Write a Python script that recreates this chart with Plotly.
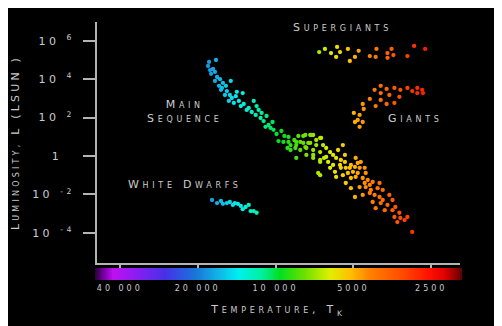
import numpy as np
import plotly.graph_objects as go

# ---------------- data (temperature in K, luminosity in L_sun) ----------------
ms_temp = [18070, 16990, 18230, 17910, 17440, 17750, 17140, 16830, 17140, 16390,
           15970, 16540, 16110, 15550, 14890, 15420, 16250, 15020, 14750, 14240,
           15150, 14490, 13860, 13620, 13270, 12920, 12140, 12360, 11620, 11930,
           11420, 11120, 10930, 10640, 10270, 10180, 9910, 9490, 9740, 9320,
           8910, 8750, 8460, 8310, 8020, 7810, 7670, 7470, 7280, 14110,
           15690, 13390, 12690, 11830, 11320, 10830, 10450, 9240, 8990,
           7670, 7150, 6720, 8310, 7810, 7340, 6960, 6550, 8380, 8020,
           7600, 7150, 6720, 6370, 6150, 5490,
           8310, 7600, 7150, 6720, 6370, 5990, 5830, 5390,
           6150, 5990, 5630, 5390, 5350, 5110, 4900,
           6720, 5830, 5250, 5020, 4730, 4680, 4520, 4480,
           5110, 4900, 4600, 4400, 4210, 3960,
           5350, 5110, 4730, 4480, 4280, 4030, 3850,
           4930, 4600, 4320, 4140, 3960,
           4210, 3920, 3690, 3530,
           4100, 3780, 3530, 3320, 3470, 3290, 3170, 2960,
           6260, 5890, 5590, 5490, 5160, 4930, 4810, 4520, 4320,
           8910, 7340, 7150, 6720, 6660, 6840,
           8750, 8160, 6960, 5730, 6490, 5590, 4810, 3850, 3630, 3440, 3090, 3380]
ms_lum = [7.9e4, 1.0e5, 4.9e4, 3.0e4, 3.4e4, 1.9e4, 2.4e4, 1.3e4, 8.1e3, 1.0e4,
          6.4e3, 4.5e3, 3.5e3, 4.5e3, 8.1e3, 2.4e3, 2.8e3, 1.5e3, 1.05e3, 1.3e3,
          740, 580, 740, 400, 510, 250, 740, 195, 250, 137,
          95, 66, 33, 41, 59, 23, 14, 20, 6.0, 5.4,
          9.8, 3.7, 6.8, 3.7, 5.4, 11, 2.9, 4.8, 12.4, 2.2e3,
          1.5e3, 1.9e3, 320, 400, 174, 121, 29, 11, 2.6,
          12.4, 12.4, 8.7, 5.4, 4.8, 4.8, 3.7, 3.7, 2.6, 2.05,
          2.6, 2.05, 1.6, 2.6, 1.6, 3.7,
          0.79, 1.13, 0.79, 0.49, 0.89, 1.13, 0.79, 1.13,
          0.24, 0.34, 0.34, 0.49, 0.24, 0.34, 0.79,
          0.10, 0.081, 0.13, 0.15, 0.24, 0.49, 0.24, 0.13,
          0.071, 0.081, 0.071, 0.056, 0.044, 0.039,
          0.039, 0.021, 0.024, 0.024, 0.017, 0.021, 0.017,
          0.0073, 0.0093, 0.0118, 0.0093, 0.0073,
          0.0040, 0.0035, 0.0028, 0.0051,
          0.0019, 0.0015, 0.0015, 0.0011, 0.00066, 0.00059, 0.00046, 0.00011,
          0.49, 0.15, 0.24, 0.10, 0.24, 0.27, 0.13, 0.039, 0.031,
          5.4, 12.4, 1.13, 0.62, 8.7, 0.13,
          2.05, 11, 6.8, 2.05, 0.79, 0.62, 0.43, 0.0051, 0.0093, 0.0022, 0.00066, 0.00036]

giant_temp = [4140, 3920, 3920, 3720, 3470, 3290, 3090, 2960, 2830, 2830,
              2710, 2690, 3630, 3320, 4320, 3920, 3720, 3470, 4100, 4600,
              4560, 4980, 4730, 4810, 4600, 4930, 4730]
giant_lum = [2.8e3, 4.5e3, 1.9e3, 3.1e3, 3.5e3, 2.8e3, 3.5e3, 2.4e3, 3.5e3, 1.9e3,
             2.8e3, 1.9e3, 1.5e3, 1.2e3, 940, 830, 510, 580, 400, 510,
             280, 174, 137, 75, 59, 59, 33]

super_temp = [6780, 6440, 6100, 5780, 5630, 5830, 5250, 5160, 4930, 4770,
              4320, 4100, 4070, 3690, 3690, 3560, 3500, 3090, 2910, 2640]
super_lum = [2.6e5, 3.8e5, 2.3e5, 4.8e5, 2.6e5, 1.45e5, 3.8e5, 8.9e4, 1.45e5, 3.0e5,
             1.6e5, 1.45e5, 3.8e5, 2.3e5, 1.3e5, 3.8e5, 1.8e5, 1.6e5, 5.4e5, 3.8e5]

wd_temp = [17600, 16830, 16250, 15970, 15420, 15020, 14620, 14360, 13980, 13620,
           13390, 13040, 12690, 12480, 12140, 11830]
wd_lum = [0.0051, 0.0035, 0.0045, 0.0032, 0.0035, 0.0040, 0.0028, 0.0035, 0.0032, 0.0025,
          0.0017, 0.0022, 0.0028, 0.00135, 0.00135, 0.0011]

x_tick_vals = [40000, 20000, 10000, 5000, 2500]
x_tick_text = ["40 000", "20 000", "10 000", "5000", "2500"]
y_tick_vals = [1e6, 1e4, 1e2, 1, 1e-2, 1e-4]
y_tick_text = ["10 <sup>6</sup>", "10 <sup>4</sup>", "10 <sup>2</sup>",
               "1", "10 <sup>-2</sup>", "10 <sup>-4</sup>"]

# colour bar (from hot / left to cold / right)
bar_stops = [0, 0.027, 0.049, 0.123, 0.19, 0.275, 0.34, 0.39, 0.455, 0.504,
             0.572, 0.64, 0.695, 0.75, 0.83, 0.913, 0.954, 1.0]
bar_colors = ["#2a0038", "#8000b0", "#c010f0", "#8020f0", "#4830e8", "#1878d8",
              "#10b8e8", "#00f0f0", "#00f0a0", "#00e020", "#70e000", "#e0f000",
              "#ffc000", "#ff8000", "#ff5000", "#ff1000", "#e00000", "#600000"]
bar_t_hot, bar_t_cold = 49900, 1901

# ---------------- figure ----------------
colorscale = [[1 - s, c] for s, c in zip(bar_stops, bar_colors)][::-1]
cmin, cmax = np.log10(bar_t_cold), np.log10(bar_t_hot)

W, H = 502, 326
OFF = 8                       # page offset of the figure in the window
ML, MR, MT, MB = 87, 48, 14, 54
PW, PH = W - ML - MR, H - MT - MB
GRAY = "#cccccc"
LINE = "#b4b4b4"

fig = go.Figure()
for tt, ll in [(ms_temp, ms_lum), (giant_temp, giant_lum),
               (super_temp, super_lum), (wd_temp, wd_lum)]:
    fig.add_trace(go.Scatter(
        x=tt, y=ll, mode="markers", xaxis="x", yaxis="y", hoverinfo="skip",
        marker=dict(size=4.3, symbol="circle", color=np.log10(tt),
                    colorscale=colorscale, cmin=cmin, cmax=cmax,
                    line=dict(width=0))))

bar_x = np.logspace(np.log10(bar_t_hot), np.log10(bar_t_cold), 400)
fig.add_trace(go.Heatmap(
    x=bar_x, y=[0, 1], z=[np.log10(bar_x), np.log10(bar_x)],
    colorscale=colorscale, zmin=cmin, zmax=cmax, showscale=False,
    xaxis="x2", yaxis="y2", hoverinfo="skip"))


def sp(txt, s):
    return "<span style='letter-spacing:%spx'>%s</span>" % (s, txt)


def smallcaps(words, s=3.7, small=8):
    """Upper-case words whose first letter is big and the rest small."""
    out = []
    for w in words.split(" "):
        out.append(w[0] + "<span style='font-size:%dpx'>%s</span>" % (small, w[1:])
                   if len(w) > 1 and w[0].isalpha() else w)
    return sp(" ".join(out), s)


lab_font = dict(family="DejaVu Sans", size=11, color=GRAY)

fig.update_layout(
    width=W, height=H, margin=dict(l=ML, r=MR, t=MT, b=MB),
    paper_bgcolor="black", plot_bgcolor="black", showlegend=False,
    font=dict(family="DejaVu Sans", color=GRAY),
    xaxis=dict(type="log", domain=[2 / PW, 1 - 2 / PW], anchor="y",
               automargin=False,
               range=[np.log10(49000), np.log10(1935)],
               showline=True, linecolor=LINE, linewidth=2, showgrid=False,
               zeroline=False, ticks="outside", ticklen=4, tickwidth=2,
               tickcolor=LINE, tickvals=x_tick_vals,
               ticktext=[sp(t, 3) for t in x_tick_text],
               tickfont=dict(size=8, color=GRAY), ticklabelstandoff=12,
               title=dict(text=sp("T<span style='font-size:8px'>EMPERATURE</span>, T<sub>K</sub>", 3.7),
                          font=lab_font, standoff=14)),
    yaxis=dict(type="log", domain=[17 / PH, 1], anchor="x",
               automargin=False,
               range=[-5.576, 6.98], showline=True, linecolor=LINE,
               linewidth=2, showgrid=False, zeroline=False, ticks="outside",
               ticklen=12, tickwidth=2, tickcolor=LINE,
               tickvals=y_tick_vals,
               ticktext=[sp(t, 16) if t == "1" else sp(t, 3.5) for t in y_tick_text],
               tickfont=dict(size=11, color=GRAY), ticklabelstandoff=6,
               title=dict(text=smallcaps("LUMINOSITY, L (LSUN )", 3.2),
                          font=lab_font, standoff=10)),
    xaxis2=dict(type="log", domain=[0, 1], anchor="y2", visible=False,
                range=[np.log10(bar_t_hot), np.log10(bar_t_cold)]),
    yaxis2=dict(domain=[0, 12 / PH], anchor="x2", range=[-0.5, 1.5],
                visible=False),
)


def px(x):
    return (x - OFF - ML) / PW


def py(y):
    return (H - MB - (y - OFF)) / PH


annots = [("SUPERGIANTS", 342, 27), ("MAIN<br>SEQUENCE", 184, 111.5),
          ("GIANTS", 415, 118), ("WHITE DWARFS", 185, 184)]
for txt, ax_, ay_ in annots:
    if "<br>" in txt:
        body = "<br>".join(smallcaps(t) for t in txt.split("<br>"))
    else:
        body = smallcaps(txt)
    fig.add_annotation(text=body, x=px(ax_), y=py(ay_), xref="paper",
                       yref="paper", showarrow=False, xanchor="center",
                       yanchor="middle", align="center", font=lab_font)

fig.write_html("out.html")
